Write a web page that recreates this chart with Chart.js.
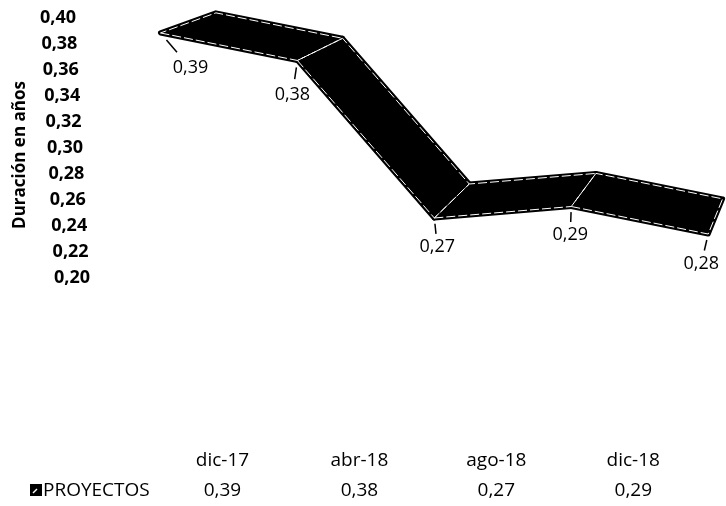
<!DOCTYPE html>
<html>
<head>
<meta charset="utf-8">
<title>Duración en años - PROYECTOS</title>
<script src="https://cdn.jsdelivr.net/npm/chart.js@4.4.0/dist/chart.umd.min.js"></script>
<style>
    html, body { margin: 0; padding: 0; background: #fff; overflow: hidden; }
    #wrap { width: 726px; height: 506px; }
</style>
</head>
<body>
<div id="wrap"><canvas id="chart" width="726" height="506"></canvas></div>
<script>
// data
const categories = ['dic-17', 'abr-18', 'ago-18', 'dic-18', ''];
const proyectos = [0.39, 0.38, 0.27, 0.29, 0.28];
const seriesName = 'PROYECTOS';
const yTicks = [0.20, 0.22, 0.24, 0.26, 0.28, 0.30, 0.32, 0.34, 0.36, 0.38, 0.40];
const yTitle = 'Duración en años';

// 3d look of the ribbon (style only)
const SKEW = 0.106, SKEW_X0 = 142;
const VP = { x: 900, y: -235 }, DEPTH = 0.925;
const labelShiftX = [30, -5, 3, -1, -7];
const labelShiftY = [35, 34, 29, 28, 30];
const FONT = '"Open Sans", "DejaVu Sans", sans-serif';

function fmt(v) {
    return v.toFixed(2).replace('.', ',');
}

function polyPath(ctx, pts) {
    ctx.beginPath();
    ctx.moveTo(pts[0].x, pts[0].y);
    for (let i = 1; i < pts.length; i++) ctx.lineTo(pts[i].x, pts[i].y);
    ctx.closePath();
}

const ribbonPlugin = {
    id: 'ribbon',
    afterDraw(chart) {
        const ctx = chart.ctx;
        const area = chart.chartArea;
        const ys = chart.scales.y;
        const meta = chart.getDatasetMeta(0);

        const front = meta.data.map(el => ({ x: el.x, y: el.y + SKEW * (el.x - SKEW_X0) }));
        const back = front.map(p => ({ x: VP.x + DEPTH * (p.x - VP.x), y: VP.y + DEPTH * (p.y - VP.y) }));

        ctx.save();
        ctx.lineJoin = 'round';

        // ribbon faces
        for (let i = 0; i < front.length - 1; i++) {
            polyPath(ctx, [front[i], front[i + 1], back[i + 1], back[i]]);
            ctx.fillStyle = '#000';
            ctx.fill();
            ctx.strokeStyle = '#000';
            ctx.lineWidth = 5;
            ctx.stroke();
        }
        ctx.strokeStyle = '#fff';
        ctx.lineWidth = 1;
        ctx.setLineDash([9, 3]);
        for (let i = 0; i < front.length - 1; i++) {
            polyPath(ctx, [front[i], front[i + 1], back[i + 1], back[i]]);
            ctx.stroke();
        }
        ctx.setLineDash([]);

        // data labels with leader lines
        ctx.font = '18px ' + FONT;
        ctx.fillStyle = '#000';
        ctx.textAlign = 'center';
        ctx.textBaseline = 'middle';
        front.forEach((p, i) => {
            const lx = p.x + labelShiftX[i];
            const ly = p.y + labelShiftY[i];
            ctx.strokeStyle = '#000';
            ctx.lineWidth = 1.5;
            ctx.beginPath();
            ctx.moveTo(p.x + 0.2 * (lx - p.x), p.y + 0.2 * (ly - p.y));
            ctx.lineTo(p.x + 0.55 * (lx - p.x), p.y + 0.55 * (ly - p.y));
            ctx.stroke();
            ctx.fillText(fmt(proyectos[i]), lx, ly);
        });

        // y ticks (slanted wall)
        ctx.font = 'bold 18px ' + FONT;
        ctx.textAlign = 'right';
        yTicks.forEach(v => {
            const y = ys.getPixelForValue(v);
            const x = 76 + (y - area.top) * 14 / (area.bottom - area.top);
            ctx.fillText(fmt(v), x, y);
        });

        // y title
        ctx.save();
        ctx.translate(20, 155);
        ctx.rotate(-Math.PI / 2);
        ctx.font = 'bold 17px ' + FONT;
        ctx.textAlign = 'center';
        ctx.fillText(yTitle, 0, 0);
        ctx.restore();

        // data table
        ctx.font = '19px ' + FONT;
        ctx.textAlign = 'center';
        meta.data.forEach((el, i) => {
            if (!categories[i]) return;
            const cx = el.x + 62;
            ctx.fillText(categories[i], cx, 461);
            ctx.fillText(fmt(proyectos[i]), cx, 491);
        });
        // legend key
        ctx.fillStyle = '#000';
        ctx.fillRect(30, 484, 12, 12);
        ctx.strokeStyle = '#fff';
        ctx.lineWidth = 1.5;
        ctx.beginPath();
        ctx.moveTo(33, 493);
        ctx.lineTo(37, 489);
        ctx.stroke();
        ctx.fillStyle = '#000';
        ctx.textAlign = 'left';
        ctx.fillText(seriesName, 43, 491);

        ctx.restore();
    }
};

window.onload = function () {
    const ctx = document.getElementById('chart').getContext('2d');

    new Chart(ctx, {
        type: 'line',
        data: {
            datasets: [
                {
                    label: seriesName,
                    data: proyectos.map((v, i) => ({ x: i, y: v })),
                    borderColor: '#000',
                    borderWidth: 0,
                    pointRadius: 0
                }
            ]
        },
        options: {
            responsive: false,
            animation: false,
            layout: {
                padding: { left: 92, right: 0, top: 18, bottom: 228 }
            },
            plugins: {
                legend: { display: false },
                tooltip: { enabled: false }
            },
            scales: {
                x: {
                    type: 'linear',
                    display: false,
                    min: -0.5,
                    max: 4.13
                },
                y: {
                    display: false,
                    min: 0.2,
                    max: 0.4,
                    afterBuildTicks: function (scale) {
                        scale.ticks = yTicks.map(v => ({ value: v }));
                    }
                }
            }
        },
        plugins: [ribbonPlugin]
    });
};
</script>
</body>
</html>
